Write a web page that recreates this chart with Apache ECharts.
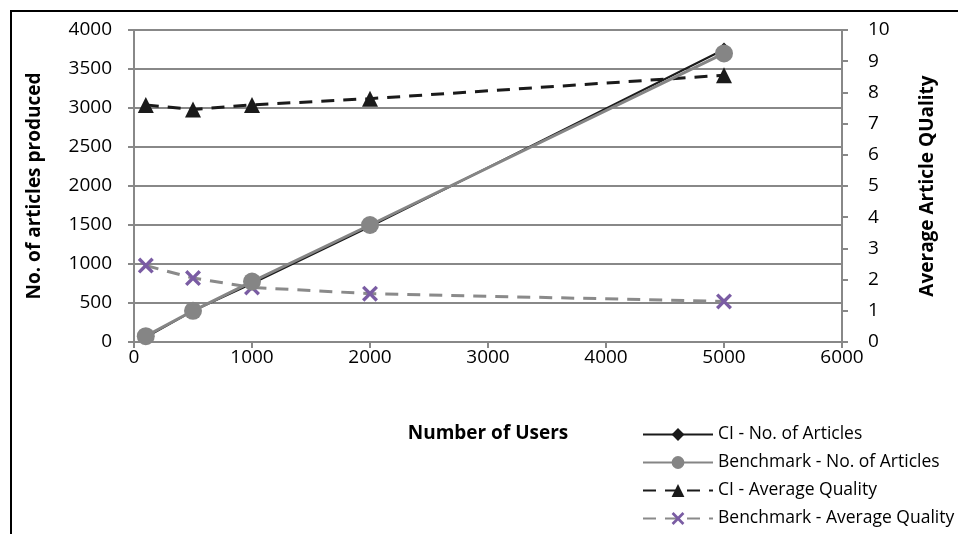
<!DOCTYPE html>
<html><head><meta charset="utf-8">
<script src="https://cdn.jsdelivr.net/npm/echarts@6/dist/echarts.min.js"></script>
<style>html,body{margin:0;padding:0;background:#fff}#c{width:958px;height:534px}</style>
</head><body><div id="c"></div>
<script>
const users = [100, 500, 1000, 2000, 5000];
const ciArticles = [60, 400, 750, 1480, 3750];
const benchArticles = [75, 400, 775, 1500, 3700];
const ciQuality = [7.6, 7.45, 7.6, 7.8, 8.55];
const benchQuality = [2.45, 2.05, 1.75, 1.55, 1.3];
const seriesNames = ['CI - No. of Articles', 'Benchmark - No. of Articles', 'CI - Average Quality', 'Benchmark - Average Quality'];

const pair = (xs, ys) => xs.map((x, i) => [x, ys[i]]);
const font = '"Open Sans", sans-serif';
const crossPath = 'path://M0,3 L3,0 L10,7 L17,0 L20,3 L13,10 L20,17 L17,20 L10,13 L3,20 L0,17 L7,10 Z';
const plain = v => String(v);

const chart = echarts.init(document.getElementById('c'));
chart.setOption({
  animation: false,
  backgroundColor: '#fff',
  graphic: [{type: 'rect', shape: {x: 11, y: 11, width: 960, height: 540}, style: {fill: 'none', stroke: '#000', lineWidth: 2}, z: 100}],
  grid: {left: 134, right: 116, top: 30, bottom: 192},
  xAxis: {
    type: 'value', min: 0, max: 6000, interval: 1000,
    name: 'Number of Users', nameLocation: 'middle', nameGap: 82,
    nameTextStyle: {fontFamily: font, fontSize: 19, fontWeight: 'bold', color: '#000'},
    axisLine: {lineStyle: {color: '#888', width: 2}},
    axisTick: {show: true, length: 6, lineStyle: {color: '#888', width: 2}},
    axisLabel: {fontFamily: font, fontSize: 19, color: '#000', margin: 6, formatter: plain},
    splitLine: {show: false}
  },
  yAxis: [{
    type: 'value', min: 0, max: 4000, interval: 500,
    name: 'No. of articles produced', nameLocation: 'middle', nameGap: 90, nameRotate: 90,
    nameTextStyle: {fontFamily: font, fontSize: 19, fontWeight: 'bold', color: '#000'},
    axisLine: {show: true, lineStyle: {color: '#888', width: 2}},
    axisTick: {show: true, length: 6, lineStyle: {color: '#888', width: 2}},
    axisLabel: {fontFamily: font, fontSize: 19, color: '#000', margin: 22, formatter: plain},
    splitLine: {show: true, lineStyle: {color: '#888', width: 2}}
  }, {
    type: 'value', min: 0, max: 10, interval: 1, position: 'right',
    name: 'Average Article QUality', nameLocation: 'middle', nameGap: 76, nameRotate: 90,
    nameTextStyle: {fontFamily: font, fontSize: 19, fontWeight: 'bold', color: '#000'},
    axisLine: {show: true, lineStyle: {color: '#888', width: 2}},
    axisTick: {show: true, length: 6, lineStyle: {color: '#888', width: 2}},
    axisLabel: {fontFamily: font, fontSize: 19, color: '#000', margin: 26, align: 'left', formatter: plain},
    splitLine: {show: false}
  }],
  legend: {
    orient: 'vertical', left: 642, top: 425, padding: 0, itemWidth: 70, itemHeight: 16, itemGap: 9,
    textStyle: {fontFamily: font, fontSize: 17.5, color: '#000', lineHeight: 19},
    data: seriesNames
  },
  series: [
    {name: seriesNames[2], type: 'line', yAxisIndex: 1, data: pair(users, ciQuality),
     symbol: 'triangle', symbolSize: 16, itemStyle: {color: '#1a1a1a'},
     lineStyle: {color: '#1a1a1a', width: 3, type: [13, 9]}, z: 2},
    {name: seriesNames[3], type: 'line', yAxisIndex: 1, data: pair(users, benchQuality),
     symbol: crossPath, symbolSize: 16, itemStyle: {color: '#7a5ca3'},
     lineStyle: {color: '#8a8a8a', width: 3, type: [13, 9]}, z: 2},
    {name: seriesNames[0], type: 'line', yAxisIndex: 0, data: pair(users, ciArticles),
     symbol: 'diamond', symbolSize: 14, itemStyle: {color: '#1a1a1a'},
     lineStyle: {color: '#1a1a1a', width: 2}, z: 3},
    {name: seriesNames[1], type: 'line', yAxisIndex: 0, data: pair(users, benchArticles),
     symbol: 'circle', symbolSize: 18, itemStyle: {color: '#858585'},
     lineStyle: {color: '#858585', width: 3}, z: 4}
  ]
});
</script></body></html>
